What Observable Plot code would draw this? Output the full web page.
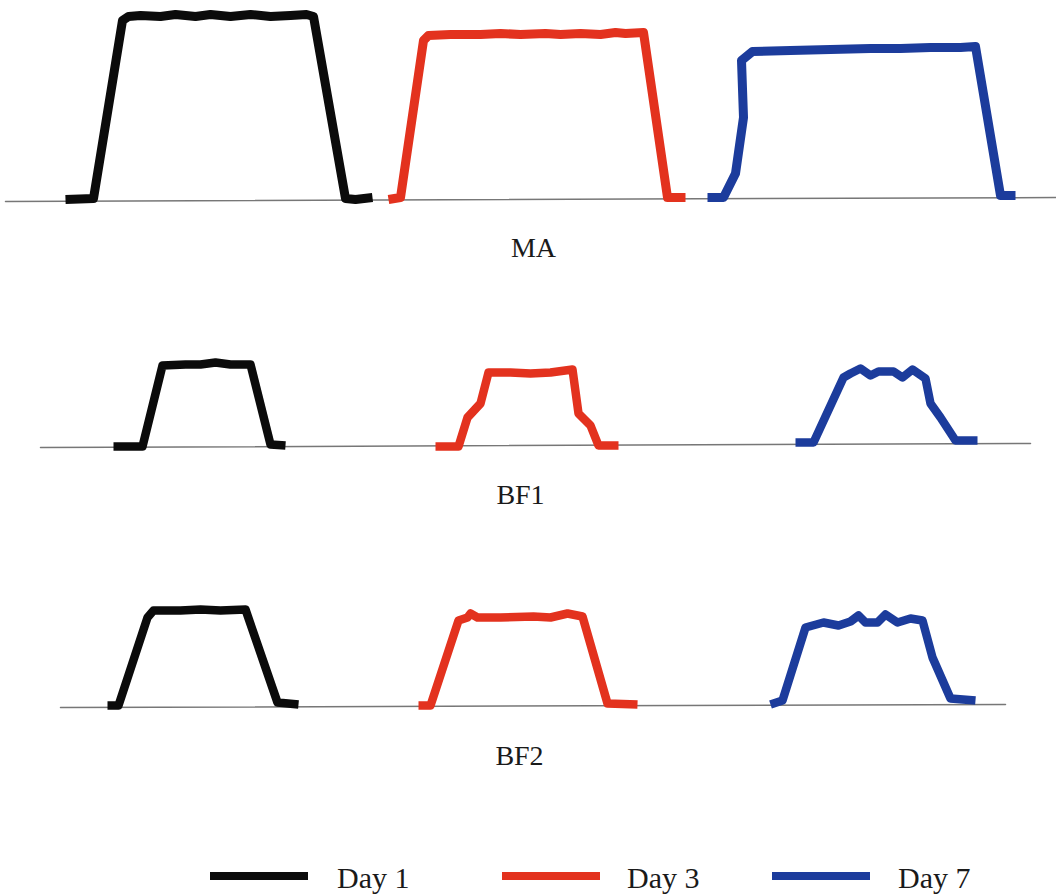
<!DOCTYPE html>
<html><head><meta charset="utf-8">
<script src="https://cdn.jsdelivr.net/npm/d3@7"></script>
<script src="https://cdn.jsdelivr.net/npm/@observablehq/plot@0.6"></script>
<style>
body{margin:0;background:#fff;font-family:"Liberation Serif","Times New Roman",serif}
svg{display:block}
#legend{position:relative;width:1056px;height:66px}
#legend .sw{position:absolute;height:8px}
#legend .lb{position:absolute;font-size:30px;line-height:30px;color:#1a1a1a;white-space:nowrap}
</style>
</head><body><div id="chart"></div><div id="legend"></div><script>
const days = ["Day 1", "Day 3", "Day 7"];
const dayColors = ["#0b0b0b", "#e3321e", "#1c3c9c"];
const panels = ["MA", "BF1", "BF2"];

// profiles: [position, height above baseline]
const MA_day1 = [[65,1],[93,2],[122,180],[128,184],[140,185],[160,184],[175,186],[195,184],[210,186],[230,184],[250,186],[270,184],[290,185],[306,186],[313,184],[345,2],[355,1],[372,3]];
const MA_day3 = [[388,1],[400,3],[423,160],[428,165],[450,166],[480,166],[500,167],[520,166],[545,167],[560,166],[580,167],[600,166],[615,168],[625,167],[643,168],[667,3],[685,3]];
const MA_day7 = [[707,3],[723,3],[735,27],[743,83],[741,140],[752,149],[790,150],[830,151],[870,152],[900,152],[930,153],[960,153],[975,154],[1000,5],[1015,5]];

const BF1_day1 = [[113,0],[142,0],[162,81],[185,82],[200,82],[215,84],[230,82],[250,82],[270,2],[285,1]];
const BF1_day3 = [[435,0],[458,0],[467,29],[480,43],[488,74],[510,74],[530,73],[550,74],[572,77],[578,33],[590,21],[598,1],[618,1]];
const BF1_day7 = [[795,4],[813,4],[843,69],[850,73],[860,78],[870,71],[878,75],[893,75],[902,69],[912,77],[925,68],[930,43],[940,29],[955,6],[977,6]];

const BF2_day1 = [[107,2],[118,2],[147,90],[153,97],[180,97],[200,98],[220,97],[245,98],[277,5],[298,3]];
const BF2_day3 = [[418,2],[430,2],[458,87],[467,90],[470,94],[477,90],[500,90],[533,91],[550,90],[567,94],[582,91],[607,4],[637,3]];
const BF2_day7 = [[770,3],[782,7],[805,80],[823,85],[838,82],[850,86],[858,92],[865,85],[877,85],[885,93],[897,85],[910,89],[922,87],[932,50],[950,9],[975,7]];

// baseline (axis) lines
const axisMA = [[5,-1],[1056,3]];
const axisBF1 = [[40,-1],[1030,3]];
const axisBF2 = [[60,0],[1005,3]];

const profiles = {
  MA: [MA_day1, MA_day3, MA_day7],
  BF1: [BF1_day1, BF1_day3, BF1_day7],
  BF2: [BF2_day1, BF2_day3, BF2_day7]
};
const axes = {MA: axisMA, BF1: axisBF1, BF2: axisBF2};

const layout = {
  MA:  {height: 270, base: 200, dx: 5,  dy: 48, sw: 9},
  BF1: {height: 260, base: 176, dx: -8, dy: 49, sw: 8.5},
  BF2: {height: 300, base: 177, dx: -9, dy: 49, sw: 8.5}
};

function rows(panel) {
  const out = [];
  profiles[panel].forEach((prof, i) => prof.forEach(([x, h]) => out.push({x, h, day: days[i]})));
  return out;
}

const chart = document.getElementById("chart");
for (const panel of panels) {
  const L = layout[panel];
  const svg = Plot.plot({
    width: 1056,
    height: L.height,
    marginTop: 0, marginLeft: 0, marginRight: 0,
    marginBottom: L.height - L.base,
    x: {domain: [0, 1056], axis: null},
    y: {domain: [0, L.base], axis: null},
    color: {domain: days, range: dayColors},
    style: {fontFamily: "'Liberation Serif', 'Times New Roman', serif", background: "white", overflow: "visible"},
    marks: [
      Plot.line(axes[panel], {x: d => d[0], y: d => d[1], stroke: "#777", strokeWidth: 1.5}),
      Plot.line(rows(panel), {x: "x", y: "h", z: "day", stroke: "day", strokeWidth: L.sw, strokeLinejoin: "round", strokeLinecap: "butt"}),
      Plot.text([panel], {text: d => d, frameAnchor: "bottom", lineAnchor: "middle", dx: L.dx, dy: L.dy, fontSize: 28, fill: "#1a1a1a"})
    ]
  });
  chart.appendChild(svg);
}

// legend
const legend = document.getElementById("legend");
const legendPos = [{sw: 210, lb: 337}, {sw: 502, lb: 627}, {sw: 772, lb: 898}];
days.forEach((d, i) => {
  const sw = document.createElement("div");
  sw.className = "sw";
  sw.style.left = legendPos[i].sw + "px";
  sw.style.top = "42px";
  sw.style.width = "98px";
  sw.style.background = dayColors[i];
  legend.appendChild(sw);
  const lb = document.createElement("div");
  lb.className = "lb";
  lb.style.left = legendPos[i].lb + "px";
  lb.style.top = "33px";
  lb.textContent = d;
  legend.appendChild(lb);
});
</script></body></html>
